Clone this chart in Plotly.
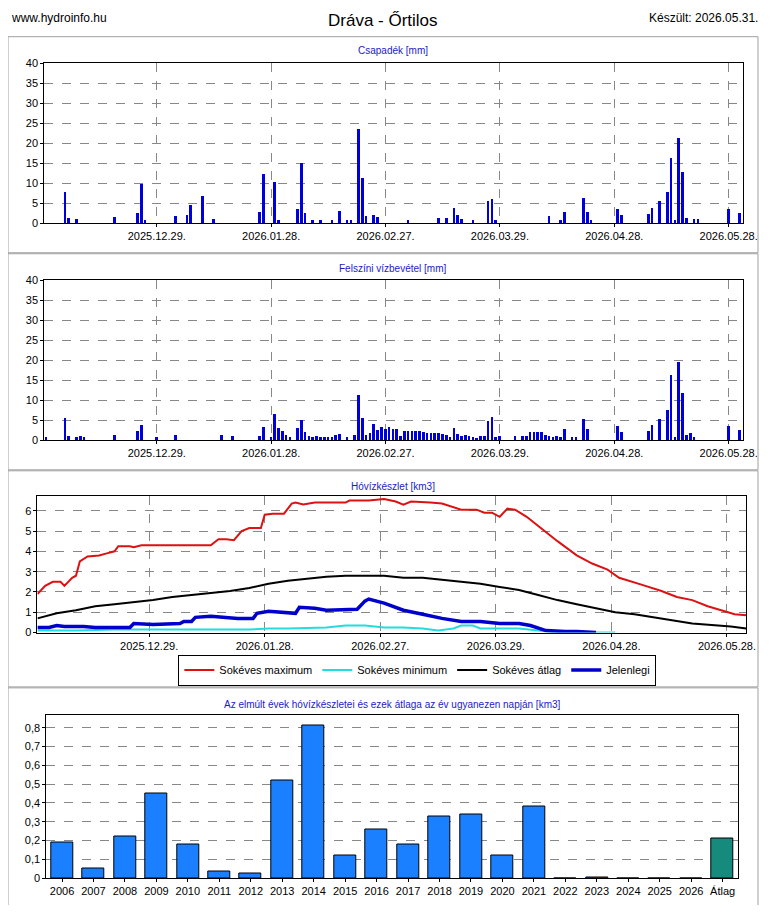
import pandas as pd
import plotly.graph_objects as go

# ------------------ Data ------------------

start = pd.Timestamp("2025-11-30")

# Csapadék [mm]: day offset -> value
rain_days = [5, 6, 8, 18, 24, 25, 26, 34, 37, 38, 41, 44, 56, 57, 60, 61, 66, 67, 68, 70, 72, 75, 77, 79, 80,
             82, 83, 84, 86, 87, 95, 103, 105, 107, 108, 109, 112, 116, 117, 118, 132, 135, 136, 141, 142, 143,
             150, 151, 158, 159, 161, 163, 164, 165, 166, 167, 168, 170, 171, 179, 182]
rain_vals = [7.7, 1.2, 1.0, 1.5, 2.5, 9.7, 0.7, 1.8, 2.0, 4.5, 6.7, 1.0, 2.7, 12.3, 10.1, 0.7, 3.5, 15.0, 2.5, 0.7,
             0.7, 0.7, 3.0, 0.7, 0.7, 23.5, 11.3, 1.7, 2.0, 1.5, 0.7, 1.2, 1.2, 3.7, 2.0, 1.0, 0.7, 5.5, 6.0, 0.7,
             1.8, 0.7, 2.8, 6.2, 2.8, 0.7, 3.5, 2.0, 2.3, 3.8, 5.5, 7.7, 16.3, 0.7, 21.2, 12.8, 1.3, 1.0, 1.0,
             3.5, 2.5]

# Felszíni vízbevétel [mm]
inflow_days = [0, 5, 6, 8, 9, 10, 18, 24, 25, 29, 34, 46, 49, 56, 57, 59, 60, 61, 62, 63, 64, 66, 67, 68, 69, 70,
               71, 72, 73, 74, 75, 76, 77, 79, 81, 82, 83, 84, 85, 86, 87, 88, 89, 90, 91, 92, 93, 94, 95, 96,
               97, 98, 99, 100, 101, 102, 103, 104, 105, 106, 107, 108, 109, 110, 111, 112, 113, 114, 115, 116,
               117, 118, 119, 123, 125, 126, 127, 128, 129, 130, 131, 132, 133, 134, 135, 136, 138, 139, 141, 142,
               150, 151, 158, 159, 161, 163, 164, 165, 166, 167, 168, 169, 170, 179, 182]
inflow_vals = [0.7, 5.5, 1.0, 0.8, 1.0, 0.7, 1.2, 2.3, 3.8, 0.7, 1.2, 1.2, 1.0, 1.0, 3.3, 0.7, 6.5, 3.0, 2.2, 1.2,
               0.7, 3.0, 5.0, 2.0, 1.0, 0.8, 1.0, 0.8, 0.8, 0.8, 0.8, 1.2, 1.5, 0.7, 1.2, 11.3, 5.5, 1.2, 1.8, 4.0,
               2.5, 3.3, 2.8, 3.2, 2.8, 2.8, 1.0, 2.2, 2.2, 2.2, 2.2, 2.2, 2.0, 1.8, 1.8, 1.6, 1.7, 1.5, 1.2, 0.7,
               3.0, 1.5, 1.0, 1.2, 1.0, 0.7, 0.3, 1.0, 1.0, 4.8, 5.7, 0.7, 1.0, 1.0, 1.0, 1.0, 2.0, 2.0, 2.0, 2.0,
               1.3, 1.0, 0.7, 1.0, 0.7, 2.8, 0.7, 0.7, 5.2, 2.8, 3.5, 2.0, 2.3, 3.8, 5.3, 7.5, 16.3, 0.7, 19.4,
               11.8, 1.3, 1.8, 0.7, 3.5, 2.5]

# Hóvízkészlet [km3]
max_days = [0, 2, 4, 6, 7, 9, 10, 11, 13, 16, 18, 20, 21, 24, 25, 27, 35, 45, 47, 49, 51, 53, 55, 58, 59, 61, 64,
            66, 67, 69, 72, 80, 81, 86, 90, 93, 95, 97, 102, 105, 110, 114, 116, 118, 120, 122, 124, 127, 131,
            135, 140, 144, 148, 151, 157, 162, 166, 170, 174, 178, 181, 184]
max_vals = [1.9, 2.3, 2.5, 2.5, 2.3, 2.7, 2.8, 3.5, 3.75, 3.8, 3.9, 4.0, 4.25, 4.25, 4.2, 4.3, 4.3, 4.3, 4.6, 4.6,
            4.55, 5.0, 5.15, 5.15, 5.8, 5.85, 5.85, 6.35, 6.4, 6.3, 6.4, 6.4, 6.5, 6.5, 6.57, 6.45, 6.3, 6.45,
            6.4, 6.35, 6.05, 6.05, 5.9, 5.9, 5.7, 6.1, 6.05, 5.7, 5.1, 4.5, 3.8, 3.4, 3.1, 2.7, 2.35, 2.05, 1.75,
            1.6, 1.3, 1.05, 0.9, 0.85]
min_days = [0, 10, 20, 30, 45, 55, 60, 65, 75, 80, 85, 90, 95, 100, 104, 108, 110, 113, 115, 120, 125, 130, 135,
            150]
min_vals = [0.1, 0.1, 0.15, 0.15, 0.15, 0.15, 0.2, 0.2, 0.25, 0.35, 0.35, 0.25, 0.25, 0.2, 0.1, 0.2, 0.35, 0.35,
            0.2, 0.2, 0.2, 0.1, 0.0, 0.0]
avg_days = [0, 5, 10, 15, 20, 25, 30, 35, 40, 45, 50, 55, 60, 65, 70, 75, 80, 85, 90, 95, 100, 105, 110, 115, 120,
            125, 130, 135, 140, 145, 150, 155, 160, 165, 170, 175, 180, 184]
avg_vals = [0.7, 0.95, 1.1, 1.3, 1.4, 1.5, 1.6, 1.75, 1.85, 1.95, 2.05, 2.2, 2.4, 2.55, 2.65, 2.75, 2.8, 2.8, 2.8,
            2.7, 2.7, 2.6, 2.5, 2.4, 2.25, 2.1, 1.85, 1.6, 1.4, 1.2, 1.0, 0.9, 0.75, 0.6, 0.45, 0.37, 0.3, 0.2]
cur_days = [0, 3, 5, 7, 12, 15, 20, 24, 25, 30, 37, 38, 40, 41, 45, 48, 52, 56, 57, 60, 63, 65, 67, 68, 72, 75,
            80, 83, 85, 86, 90, 95, 100, 105, 110, 115, 120, 125, 128, 132, 137, 140, 145]
cur_vals = [0.25, 0.25, 0.35, 0.3, 0.3, 0.25, 0.25, 0.25, 0.45, 0.4, 0.45, 0.55, 0.55, 0.75, 0.8, 0.75, 0.7, 0.7,
            0.95, 1.05, 1.0, 0.95, 0.95, 1.25, 1.2, 1.1, 1.15, 1.15, 1.55, 1.65, 1.45, 1.1, 0.9, 0.7, 0.55, 0.55,
            0.45, 0.45, 0.35, 0.1, 0.05, 0.05, 0.0]

# Az elmúlt évek hóvízkészletei
years = ["2006", "2007", "2008", "2009", "2010", "2011", "2012", "2013", "2014", "2015", "2016", "2017", "2018",
         "2019", "2020", "2021", "2022", "2023", "2024", "2025", "2026", "Átlag"]
year_vals = [0.19, 0.05, 0.22, 0.45, 0.18, 0.035, 0.025, 0.52, 0.81, 0.12, 0.26, 0.18, 0.33, 0.34, 0.12, 0.38,
             0.0, 0.005, 0.0, 0.0, 0.0, 0.21]

date_ticks = ["2025-12-29", "2026-01-28", "2026-02-27", "2026-03-29", "2026-04-28", "2026-05-28"]
date_labels = ["2025.12.29.", "2026.01.28.", "2026.02.27.", "2026.03.29.", "2026.04.28.", "2026.05.28."]

W, H, OFF = 764, 897, 8  # page body keeps an 8 px margin


def to_dates(offsets):
    return [start + pd.Timedelta(days=d) for d in offsets]


def px_x(x):
    return (x - OFF) / W


def px_y(y):
    return 1 - (y - OFF) / H


# ------------------ Build Figure ------------------

fig = go.Figure()
day_ms = 86400000
fig.add_trace(go.Bar(x=to_dates(rain_days), y=rain_vals, marker_color="#0000dd", marker_line_width=0,
                     width=0.7 * day_ms, xaxis="x", yaxis="y", showlegend=False))
fig.add_trace(go.Bar(x=to_dates(inflow_days), y=inflow_vals, marker_color="#0000dd", marker_line_width=0,
                     width=0.7 * day_ms, xaxis="x2", yaxis="y2", showlegend=False))

lines = [("Sokéves maximum", max_days, max_vals, "#dd1111", 2),
         ("Sokéves minimum", min_days, min_vals, "#22dddd", 2),
         ("Sokéves átlag", avg_days, avg_vals, "black", 2),
         ("Jelenlegi", cur_days, cur_vals, "#0000cc", 3.5)]
for name, d, v, col, w in lines:
    fig.add_trace(go.Scatter(x=to_dates(d), y=v, mode="lines", name=name, line=dict(color=col, width=w),
                             xaxis="x3", yaxis="y3"))

fig.add_trace(go.Bar(x=years, y=year_vals, xaxis="x4", yaxis="y4", showlegend=False,
                     marker_color=["#1a80ff"] * 21 + ["#168a7c"], marker_line=dict(color="black", width=1),
                     width=0.7))

font = dict(family="Liberation Sans, Arial", size=11, color="black")
grid = dict(showgrid=True, gridcolor="#888888", griddash="dash", gridwidth=1, showline=True, linecolor="black",
            linewidth=1, mirror=True, ticks="outside", ticklen=3, tickcolor="black", zeroline=False,
            tickfont=font)

date_axis = dict(grid, type="date", tickvals=date_ticks, ticktext=date_labels)
rng12 = ["2025-11-29 12:00", "2026-05-31 20:00"]

fig.update_layout(
    width=W, height=H, margin=dict(l=0, r=0, t=0, b=0), paper_bgcolor="white", plot_bgcolor="white",
    bargap=0, font=font,
    xaxis=dict(date_axis, domain=[px_x(45), px_x(757)], range=rng12, anchor="y"),
    yaxis=dict(grid, domain=[px_y(220), px_y(58)], range=[0, 40], dtick=5, anchor="x"),
    xaxis2=dict(date_axis, domain=[px_x(45), px_x(757)], range=rng12, anchor="y2"),
    yaxis2=dict(grid, domain=[px_y(440), px_y(278)], range=[0, 40], dtick=5, anchor="x2"),
    xaxis3=dict(date_axis, domain=[px_x(38), px_x(760)], range=["2025-11-30", "2026-06-02"], anchor="y3"),
    yaxis3=dict(grid, domain=[px_y(635), px_y(497)], range=[0, 6.7], dtick=1, anchor="x3"),
    xaxis4=dict(grid, domain=[px_x(47), px_x(752)], anchor="y4", showgrid=False, type="category"),
    yaxis4=dict(grid, domain=[px_y(884), px_y(718)], range=[0, 0.87], anchor="x4",
                tickvals=[0, 0.1, 0.2, 0.3, 0.4, 0.5, 0.6, 0.7, 0.8],
                ticktext=["0", "0,1", "0,2", "0,3", "0,4", "0,5", "0,6", "0,7", "0,8"]),
    legend=dict(orientation="h", x=px_x(425), y=px_y(673), xanchor="center", yanchor="middle",
                bordercolor="black", borderwidth=1, font=dict(family="Liberation Sans, Arial", size=11),
                itemwidth=30, tracegroupgap=0),
)

# ------------------ Titles and Panel Frames ------------------

fig.add_annotation(text="Dráva - Őrtilos", x=px_x(390), y=px_y(15), xref="paper", yref="paper", showarrow=False,
                   xanchor="center", yanchor="middle",
                   font=dict(family="Liberation Sans, Arial", size=17, color="black"))
fig.add_annotation(text="www.hydroinfo.hu", x=px_x(9), y=px_y(12), xref="paper", yref="paper", showarrow=False,
                   xanchor="left", yanchor="middle", font=dict(size=12))
fig.add_annotation(text="Készült: 2026.05.31.", x=px_x(774), y=px_y(12), xref="paper", yref="paper",
                   showarrow=False, xanchor="right", yanchor="middle", font=dict(size=12))
subtitles = [("Csapadék [mm]", 45), ("Felszíni vízbevétel [mm]", 266), ("Hóvízkészlet [km3]", 487),
             ("Az elmúlt évek hóvízkészletei és ezek átlaga az év ugyanezen napján [km3]", 708)]
for text, ypx in subtitles:
    fig.add_annotation(text=text, x=px_x(400), y=px_y(ypx), xref="paper", yref="paper", showarrow=False,
                       xanchor="center", yanchor="middle", font=dict(size=10, color="#1a1acc"))
for top, bottom in [(31, 250), (251, 470), (471, 690), (691, 912)]:
    fig.add_shape(type="rect", xref="paper", yref="paper", x0=px_x(8), x1=px_x(772), y0=px_y(bottom),
                  y1=px_y(top), line=dict(color="#a0a0a0", width=1))

fig.write_html("out.html")
